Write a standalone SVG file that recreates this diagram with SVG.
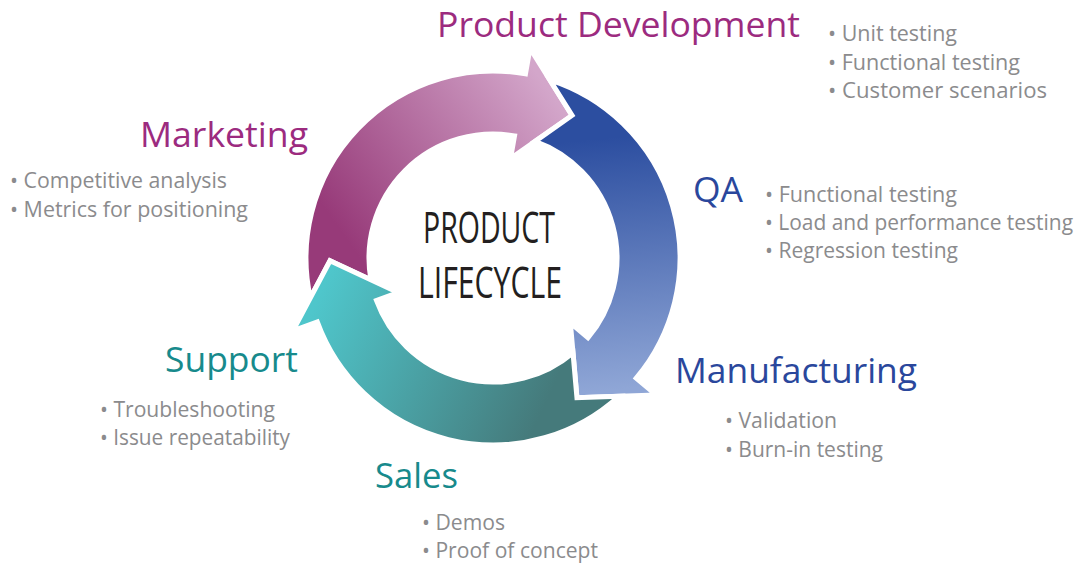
<svg xmlns="http://www.w3.org/2000/svg" xmlns:xlink="http://www.w3.org/1999/xlink" width="1081" height="563" viewBox="0 0 1081 563">
  <style>
    .arrow { stroke: #ffffff; stroke-width: 5; stroke-linejoin: miter; }
    .head { font-family: "Open Sans", "Noto Sans", "DejaVu Sans", sans-serif; font-size: 35px; }
    .bul { font-family: "Open Sans", "Noto Sans", "DejaVu Sans", sans-serif; font-size: 21px; fill: #8b8b8d; }
    .purple { fill: #9c2b7f; }
    .blue { fill: #2a479c; }
    .teal { fill: #178a8c; }
    .center { font-family: "Open Sans", "Noto Sans", sans-serif; font-weight: 400; font-size: 43px; fill: #231f20; }
  </style>
  <defs>
    <path id="arrowShape" d="M 310.32 297.95 A 187 187 0 0 1 525.47 73.84 L 529.99 48.24 L 572.02 115.44 L 510.54 158.53 L 514.53 135.88 A 124 124 0 0 0 370.95 279.91 L 330.02 260.84 Z"/>
    <linearGradient id="gPurple" gradientUnits="userSpaceOnUse" x1="340" y1="230" x2="545" y2="85">
      <stop offset="0" stop-color="#973a79"/>
      <stop offset="1" stop-color="#d3a6ca"/>
    </linearGradient>
    <linearGradient id="gBlue" gradientUnits="userSpaceOnUse" x1="340" y1="230" x2="545" y2="85">
      <stop offset="0" stop-color="#2c4ea0"/>
      <stop offset="1" stop-color="#8fa6d6"/>
    </linearGradient>
    <linearGradient id="gTeal" gradientUnits="userSpaceOnUse" x1="340" y1="230" x2="545" y2="85">
      <stop offset="0" stop-color="#457a7b"/>
      <stop offset="1" stop-color="#4fc6cb"/>
    </linearGradient>
  </defs>

  <g id="connectors">
    <use id="arrow-marketing" class="arrow" xlink:href="#arrowShape" href="#arrowShape" fill="url(#gPurple)"/>
    <use id="arrow-qa" class="arrow" xlink:href="#arrowShape" href="#arrowShape" fill="url(#gBlue)" transform="rotate(120 493 258)"/>
    <use id="arrow-sales" class="arrow" xlink:href="#arrowShape" href="#arrowShape" fill="url(#gTeal)" transform="rotate(240 493 258)"/>
  </g>

  <g id="center-title">
    <text class="center" x="423" y="243" textLength="132" lengthAdjust="spacingAndGlyphs">PRODUCT</text>
    <text class="center" x="418" y="298" textLength="144" lengthAdjust="spacingAndGlyphs">LIFECYCLE</text>
  </g>

  <g id="node-product-development">
    <text class="head purple" x="437" y="37" textLength="363" lengthAdjust="spacingAndGlyphs">Product Development</text>
    <text class="bul" x="828" y="41" textLength="129" lengthAdjust="spacingAndGlyphs">• Unit testing</text>
    <text class="bul" x="828" y="70" textLength="192" lengthAdjust="spacingAndGlyphs">• Functional testing</text>
    <text class="bul" x="828" y="98" textLength="219" lengthAdjust="spacingAndGlyphs">• Customer scenarios</text>
  </g>

  <g id="node-marketing">
    <text class="head purple" x="140" y="147" textLength="168" lengthAdjust="spacingAndGlyphs">Marketing</text>
    <text class="bul" x="10" y="188" textLength="217" lengthAdjust="spacingAndGlyphs">• Competitive analysis</text>
    <text class="bul" x="10" y="217" textLength="238" lengthAdjust="spacingAndGlyphs">• Metrics for positioning</text>
  </g>

  <g id="node-qa">
    <text class="head blue" x="693" y="202" textLength="50" lengthAdjust="spacingAndGlyphs">QA</text>
    <text class="bul" x="765" y="202" textLength="192" lengthAdjust="spacingAndGlyphs">• Functional testing</text>
    <text class="bul" x="765" y="230" textLength="308" lengthAdjust="spacingAndGlyphs">• Load and performance testing</text>
    <text class="bul" x="765" y="258" textLength="193" lengthAdjust="spacingAndGlyphs">• Regression testing</text>
  </g>

  <g id="node-manufacturing">
    <text class="head blue" x="675" y="383" textLength="242" lengthAdjust="spacingAndGlyphs">Manufacturing</text>
    <text class="bul" x="725" y="428" textLength="112" lengthAdjust="spacingAndGlyphs">• Validation</text>
    <text class="bul" x="725" y="457" textLength="158" lengthAdjust="spacingAndGlyphs">• Burn-in testing</text>
  </g>

  <g id="node-support">
    <text class="head teal" x="165" y="372" textLength="133" lengthAdjust="spacingAndGlyphs">Support</text>
    <text class="bul" x="100" y="417" textLength="175" lengthAdjust="spacingAndGlyphs">• Troubleshooting</text>
    <text class="bul" x="100" y="445" textLength="190" lengthAdjust="spacingAndGlyphs">• Issue repeatability</text>
  </g>

  <g id="node-sales">
    <text class="head teal" x="375" y="488" textLength="83" lengthAdjust="spacingAndGlyphs">Sales</text>
    <text class="bul" x="422" y="530" textLength="83" lengthAdjust="spacingAndGlyphs">• Demos</text>
    <text class="bul" x="422" y="558" textLength="176" lengthAdjust="spacingAndGlyphs">• Proof of concept</text>
  </g>
</svg>
